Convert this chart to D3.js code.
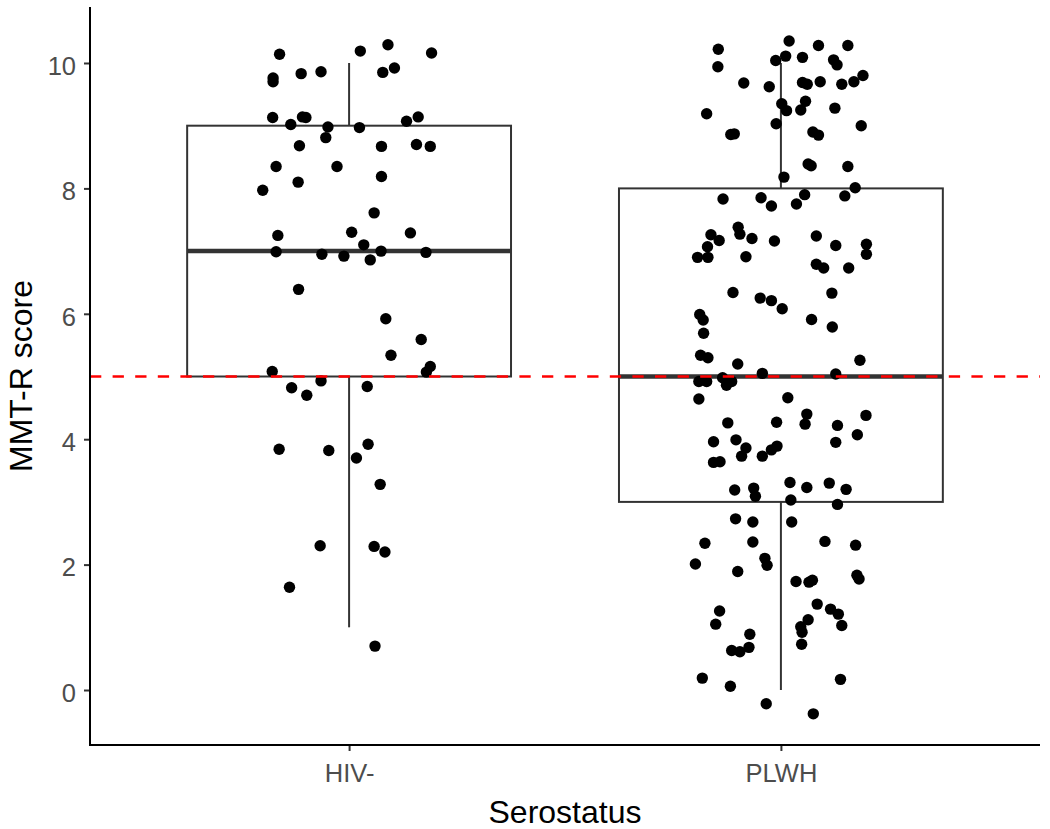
<!DOCTYPE html>
<html>
<head>
<meta charset="utf-8">
<script src="https://cdn.jsdelivr.net/npm/d3@7"></script>
<style>
  body { margin: 0; background: #fff; }
  svg { display: block; }
  text { font-family: "Liberation Sans", Arial, sans-serif; }
</style>
</head>
<body>
<svg id="chart" width="1050" height="829"></svg>
<script>
'use strict';

/* data */

var groups = ['HIV-', 'PLWH'];

// box stats per group
var boxMin    = [1, 0];
var boxQ1     = [5, 3];
var boxMedian = [7, 5];
var boxQ3     = [9, 8];
var boxMax    = [10, 10];

var refLine = 5;   // red dashed cut-off

var yTicks = [0, 2, 4, 6, 8, 10];

// jittered points: [horizontal jitter (category units), score]
var hivPoints = [
  [-0.161, 10.14], [0.026, 10.19], [0.090, 10.29], [0.191, 10.16],
  [-0.176, 9.76], [-0.176, 9.70], [-0.111, 9.83], [-0.065, 9.86], [0.078, 9.85], [0.105, 9.92],
  [-0.177, 9.13], [-0.108, 9.14], [-0.100, 9.13], [-0.135, 9.02], [-0.049, 8.98], [-0.054, 8.81],
  [0.024, 8.97], [0.133, 9.07], [0.160, 9.14],
  [-0.115, 8.68], [0.075, 8.67], [0.156, 8.70], [0.188, 8.67],
  [-0.169, 8.35], [-0.028, 8.35], [0.075, 8.19], [-0.118, 8.10], [-0.200, 7.97],
  [0.058, 7.61], [-0.165, 7.25], [0.006, 7.30], [0.142, 7.29], [0.034, 7.10],
  [-0.169, 6.99], [0.074, 7.00], [0.178, 6.98], [-0.063, 6.95], [-0.012, 6.92], [0.049, 6.86],
  [-0.117, 6.39], [0.085, 5.92], [0.167, 5.59], [0.097, 5.34],
  [-0.178, 5.08], [0.188, 5.16], [0.179, 5.07],
  [-0.133, 4.82], [-0.098, 4.70], [-0.065, 4.93], [0.042, 4.84],
  [-0.162, 3.84], [-0.047, 3.82], [0.044, 3.92], [0.017, 3.70], [0.072, 3.28],
  [-0.067, 2.30], [0.058, 2.29], [0.083, 2.20], [-0.138, 1.64], [0.060, 0.70]
];

var plwhPoints = [
  [-0.145, 10.22], [0.019, 10.35], [0.087, 10.28], [0.155, 10.28],
  [-0.146, 9.94], [-0.012, 10.04], [0.011, 10.11], [0.050, 10.09], [0.122, 10.05], [0.130, 9.97],
  [0.190, 9.80], [0.169, 9.70], [0.141, 9.66], [0.091, 9.70], [0.050, 9.69], [0.061, 9.66],
  [-0.027, 9.62], [-0.086, 9.68], [-0.172, 9.19],
  [0.002, 9.35], [0.013, 9.24], [0.057, 9.39], [0.046, 9.25], [0.125, 9.28], [-0.011, 9.03],
  [-0.116, 8.86], [-0.108, 8.87], [0.074, 8.90], [0.087, 8.85], [0.186, 9.00],
  [0.063, 8.39], [0.070, 8.36], [0.155, 8.35], [0.007, 8.18], [0.172, 8.01], [0.148, 7.88],
  [-0.134, 7.83], [-0.046, 7.85], [0.055, 7.90], [-0.022, 7.72], [0.036, 7.75],
  [-0.162, 7.26], [-0.143, 7.17], [-0.170, 7.07], [-0.193, 6.90], [-0.169, 6.90],
  [-0.099, 7.38], [-0.095, 7.27], [-0.067, 7.20], [-0.081, 6.91], [-0.015, 7.16],
  [0.082, 7.24], [0.127, 7.09], [0.198, 7.11], [0.198, 6.95],
  [0.082, 6.79], [0.099, 6.73], [0.157, 6.73],
  [-0.111, 6.34], [-0.048, 6.25], [-0.022, 6.21], [0.003, 6.08], [0.118, 6.33],
  [-0.188, 5.99], [-0.180, 5.90], [-0.179, 5.69], [0.071, 5.91], [0.119, 5.79],
  [-0.186, 5.34], [-0.169, 5.30], [-0.100, 5.20], [0.183, 5.26], [-0.043, 5.05], [0.127, 5.04],
  [-0.135, 4.98], [-0.190, 4.92], [-0.172, 4.92], [-0.114, 4.92], [-0.126, 4.86],
  [-0.190, 4.64], [0.016, 4.66], [0.060, 4.40], [0.056, 4.24], [0.197, 4.38],
  [-0.123, 4.26], [-0.010, 4.27], [0.131, 4.22], [0.177, 4.07], [0.127, 3.95],
  [-0.156, 3.96], [-0.104, 3.99], [-0.081, 3.86], [-0.091, 3.73], [-0.009, 3.89], [-0.022, 3.83],
  [-0.043, 3.73], [-0.156, 3.63], [-0.141, 3.64],
  [-0.107, 3.19], [-0.063, 3.22], [-0.059, 3.09], [0.021, 3.31], [0.060, 3.23], [0.112, 3.30],
  [0.151, 3.20], [0.023, 3.03], [0.131, 2.96],
  [-0.105, 2.73], [-0.065, 2.68], [0.025, 2.68],
  [-0.176, 2.34], [-0.065, 2.36], [0.102, 2.37], [0.173, 2.31],
  [-0.198, 2.01], [-0.037, 2.10], [-0.032, 1.99], [-0.100, 1.89],
  [0.035, 1.73], [0.065, 1.72], [0.073, 1.75], [0.176, 1.83], [0.181, 1.77],
  [-0.142, 1.26], [-0.151, 1.05], [-0.072, 0.89], [-0.114, 0.63], [-0.095, 0.61], [-0.074, 0.68],
  [0.084, 1.37], [0.115, 1.29], [0.133, 1.21], [0.063, 1.12], [0.046, 1.01], [0.049, 0.92],
  [0.141, 1.03], [0.048, 0.73],
  [-0.182, 0.19], [-0.117, 0.06], [0.138, 0.17], [-0.034, -0.22], [0.075, -0.38]
];

var pointSets = [hivPoints, plwhPoints];

/* layout */

var svg = d3.select('#chart');
var panel = { left: 90, right: 1040, top: 7, bottom: 745 };

// discrete axis: categories at 1 and 2, 0.6 expansion either side (like ggplot)
var x = d3.scaleLinear().domain([0.4, 2.6]).range([panel.left, panel.right]);
var xCat = d3.scalePoint().domain(groups).range([x(1), x(2)]);
var y = d3.scaleLinear().domain([-0.877, 10.893]).range([panel.bottom, panel.top]);

var boxHalf = 0.375;  // box width 0.75
var boxStroke = '#333';

var boxes = svg.append('g').attr('class', 'boxes');

groups.forEach(function(g, i) {
  var cx = x(i + 1);
  var bx = boxes.append('g');

  // whiskers
  bx.append('line')
    .attr('x1', cx).attr('x2', cx)
    .attr('y1', y(boxQ3[i])).attr('y2', y(boxMax[i]))
    .attr('stroke', boxStroke).attr('stroke-width', 2);
  bx.append('line')
    .attr('x1', cx).attr('x2', cx)
    .attr('y1', y(boxQ1[i])).attr('y2', y(boxMin[i]))
    .attr('stroke', boxStroke).attr('stroke-width', 2);

  bx.append('rect')
    .attr('x', x(i + 1 - boxHalf))
    .attr('width', x(i + 1 + boxHalf) - x(i + 1 - boxHalf))
    .attr('y', y(boxQ3[i]))
    .attr('height', y(boxQ1[i]) - y(boxQ3[i]))
    .attr('fill', '#fff')
    .attr('stroke', boxStroke).attr('stroke-width', 2);

  bx.append('line')
    .attr('x1', x(i + 1 - boxHalf)).attr('x2', x(i + 1 + boxHalf))
    .attr('y1', y(boxMedian[i])).attr('y2', y(boxMedian[i]))
    .attr('stroke', boxStroke).attr('stroke-width', 4.5);
});

// jittered points
var pts = svg.append('g').attr('class', 'points');
pointSets.forEach(function(set, i) {
  pts.selectAll('circle.g' + i)
    .data(set)
    .enter()
    .append('circle')
    .attr('class', 'g' + i)
    .attr('cx', function(d) { return x(i + 1 + d[0]); })
    .attr('cy', function(d) { return y(d[1]); })
    .attr('r', 5.7)
    .attr('fill', '#000');
});

// reference line
svg.append('line')
  .attr('x1', panel.left).attr('x2', panel.right)
  .attr('y1', y(refLine)).attr('y2', y(refLine))
  .attr('stroke', '#ff0000')
  .attr('stroke-width', 2.6)
  .attr('stroke-dasharray', '11.3,11.3');

/* axes */

var yAxis = svg.append('g')
  .attr('transform', 'translate(' + panel.left + ',0)')
  .call(d3.axisLeft(y).tickValues(yTicks).tickSize(6).tickPadding(8).tickSizeOuter(0));
yAxis.select('.domain').remove();
yAxis.selectAll('.tick line').attr('stroke', '#333').attr('stroke-width', 2);
yAxis.selectAll('.tick text')
  .attr('fill', '#4d4d4d')
  .attr('font-size', 25.5)
  .attr('dy', '0.44em')
  .style('font-family', '"Liberation Sans", Arial, sans-serif');

var xAxis = svg.append('g')
  .attr('transform', 'translate(0,' + panel.bottom + ')')
  .call(d3.axisBottom(xCat).tickSize(6).tickPadding(13).tickSizeOuter(0));
xAxis.select('.domain').remove();
xAxis.selectAll('.tick line').attr('stroke', '#333').attr('stroke-width', 2);
xAxis.selectAll('.tick text')
  .attr('fill', '#4d4d4d')
  .attr('font-size', 25.5)
  .attr('dy', '0.69em')
  .style('font-family', '"Liberation Sans", Arial, sans-serif');

// axis lines
svg.append('line')
  .attr('x1', panel.left).attr('x2', panel.left)
  .attr('y1', panel.top).attr('y2', panel.bottom + 1)
  .attr('stroke', '#000').attr('stroke-width', 2);
svg.append('line')
  .attr('x1', panel.left - 1).attr('x2', panel.right)
  .attr('y1', panel.bottom).attr('y2', panel.bottom)
  .attr('stroke', '#000').attr('stroke-width', 2);

// titles
svg.append('text')
  .attr('x', (panel.left + panel.right) / 2)
  .attr('y', 823)
  .attr('text-anchor', 'middle')
  .attr('font-size', 32)
  .attr('fill', '#000')
  .text('Serostatus');

svg.append('text')
  .attr('transform', 'translate(32,' + (panel.top + panel.bottom) / 2 + ') rotate(-90)')
  .attr('text-anchor', 'middle')
  .attr('font-size', 32)
  .attr('fill', '#000')
  .text('MMT-R score');
</script>
</body>
</html>
